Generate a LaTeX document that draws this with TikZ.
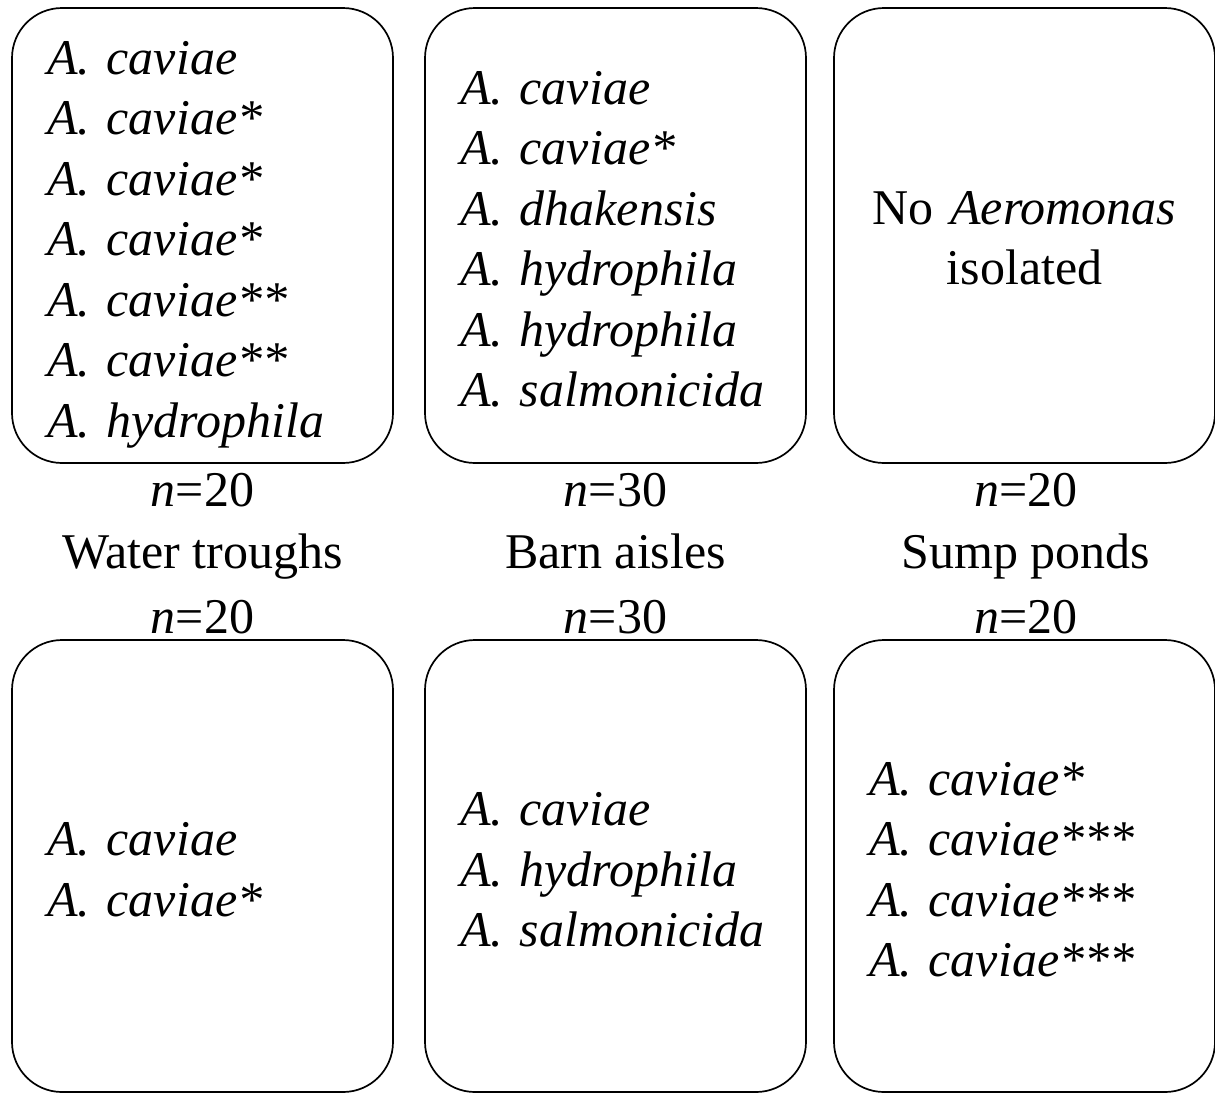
\documentclass[tikz,border=0pt]{standalone}
\usepackage{fontspec}
\setmainfont{Liberation Serif}
\usepackage{tikz}
\usetikzlibrary{positioning}
\frenchspacing

\begin{document}
\begin{tikzpicture}[x=1pt,y=-1pt,font=\fontsize{50}{60.5}\selectfont,
site/.style={draw,line width=1.7pt,rounded corners=50pt,minimum width=381pt,minimum height=455pt,inner sep=0pt},
list/.style={inner sep=0pt,text width=311pt,align=left,execute at begin node=\strut,execute at end node=\strut},
count/.style={anchor=base}]
\useasboundingbox(0,0)rectangle(1215,1093);
% top row
\node[site](wt1)at(202.5,235.5){};
\node[site](ba1)at(615.5,235.5){};
\node[site](sp1)at(1024.5,235.5){};
\node[list](wt1l)at([yshift=-8pt]wt1.center){\textit{A. caviae}\\\textit{A. caviae*}\\\textit{A. caviae*}\\\textit{A. caviae*}\\\textit{A. caviae**}\\\textit{A. caviae**}\\\textit{A. hydrophila}};
\node[list](ba1l)at([yshift=-8pt]ba1.center){\textit{A. caviae}\\\textit{A. caviae*}\\\textit{A. dhakensis}\\\textit{A. hydrophila}\\\textit{A. hydrophila}\\\textit{A. salmonicida}};
\node[list,align=center](sp1l)at([yshift=-7pt]sp1.center){No \textit{Aeromonas}\\isolated};
% labels
\node[count](n1)at(202.5,506){\textit{n}=20};
\node[count](n2)at(615.5,506){\textit{n}=30};
\node[count](n3)at(1026,506){\textit{n}=20};
\node[count](wt)at(202.5,568){Water troughs};
\node[count](ba)at(615.5,568){Barn aisles};
\node[count](sp)at(1026,568){Sump ponds};
\node[count](n4)at(202.5,633){\textit{n}=20};
\node[count](n5)at(615.5,633){\textit{n}=30};
\node[count](n6)at(1026,633){\textit{n}=20};
% bottom row
\node[site,minimum height=452pt](wt2)at(202.5,866){};
\node[site,minimum height=452pt](ba2)at(615.5,866){};
\node[site,minimum height=452pt](sp2)at(1024.5,866){};
\node[list](wt2l)at([yshift=-8pt]wt2.center){\textit{A. caviae}\\\textit{A. caviae*}};
\node[list](ba2l)at([yshift=-8pt]ba2.center){\textit{A. caviae}\\\textit{A. hydrophila}\\\textit{A. salmonicida}};
\node[list](sp2l)at([yshift=-8pt]sp2.center){\textit{A. caviae*}\\\textit{A. caviae***}\\\textit{A. caviae***}\\\textit{A. caviae***}};
\end{tikzpicture}
\end{document}
